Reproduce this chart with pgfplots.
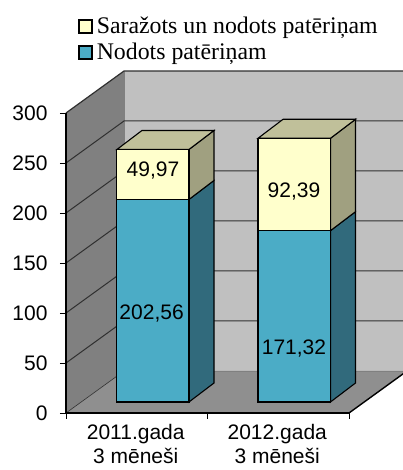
\documentclass[border=0pt]{standalone}
\usepackage{fontspec}
\setmainfont{Liberation Sans}
\newfontfamily\legendfont{Liberation Serif}
\usepackage{pgfplots}
\pgfplotsset{compat=1.18}

\definecolor{wallback}{HTML}{C0C0C0}
\definecolor{wallside}{HTML}{808080}
\definecolor{floorc}{HTML}{8F8F8F}
\definecolor{bluef}{HTML}{4BACC6}
\definecolor{blues}{HTML}{316A7C}
\definecolor{yellowf}{HTML}{FFFFCC}
\definecolor{yellows}{HTML}{A0A080}
\definecolor{yellowt}{HTML}{C0C09A}
\definecolor{gridc}{HTML}{303030}

\begin{document}
\begin{tikzpicture}
\path[use as bounding box,clip] (-66pt,-57pt) rectangle (337pt,413pt);
\begin{axis}[
  scale only axis,
  width=283pt,
  height=300pt,
  xmin=0, xmax=2,
  ymin=0, ymax=300,
  clip=false,
  axis on top,
  axis x line=bottom,
  axis y line=left,
  axis line style={-, line width=1.5pt, black},
  tick align=outside,
  major tick length=6pt,
  tick style={line width=0.9pt, black},
  xtick={0,1,2},
  xticklabels={},
  extra x ticks={0.5,1.5},
  extra x tick labels={{2011.gada\\3 mēneši},{2012.gada\\3 mēneši}},
  extra x tick style={major tick length=0pt, xticklabel style={align=center, yshift=-11pt, xshift=-1pt, inner ysep=0pt}},
  ytick={0,50,100,150,200,250,300},
  yticklabel style={xshift=-9pt},
  /pgf/number format/assume math mode=true,
  tick label style={font=\fontsize{21}{24}\selectfont},
  legend style={draw=none, fill=none, at={(12pt,398pt)}, anchor=north west,
    font=\legendfont\fontsize{23.8}{24}\selectfont, cells={anchor=west},
    row sep=4pt, inner sep=0pt, column sep=2pt},
  legend image code/.code={\draw[#1, line width=1.6pt, draw=black] (0pt,-6.5pt) rectangle (13pt,6.5pt);},
]
% walls and floor
\addplot[forget plot, fill=wallback, draw=none] coordinates {(0.41,42) (2.41,42) (2.41,342) (0.41,342)} --cycle;
\addplot[forget plot, fill=wallside, draw=none] coordinates {(0,0) (0.41,42) (0.41,342) (0,300)} --cycle;
\addplot[forget plot, fill=floorc, draw=none] coordinates {(0,0) (2,0) (2.41,42) (0.41,42)} --cycle;
\addplot[forget plot, gridc, line width=0.6pt] coordinates {(0,0) (0.41,42)};
\addplot[forget plot, black, line width=1.4pt] coordinates {(2,0) (2.41,42)};
\addplot[forget plot, gray, line width=0.6pt] coordinates {(0.41,42) (0.41,342)};
\addplot[forget plot, gray, line width=0.6pt] coordinates {(0.41,42) (2.41,42)};
% grid
\addplot[forget plot, gridc, line width=1pt] coordinates {(0,50) (0.41,92) (2.41,92)};
\addplot[forget plot, gridc, line width=1pt] coordinates {(0,100) (0.41,142) (2.41,142)};
\addplot[forget plot, gridc, line width=1pt] coordinates {(0,150) (0.41,192) (2.41,192)};
\addplot[forget plot, gridc, line width=1pt] coordinates {(0,200) (0.41,242) (2.41,242)};
\addplot[forget plot, gridc, line width=1pt] coordinates {(0,250) (0.41,292) (2.41,292)};
\addplot[forget plot, gridc, line width=1.2pt] coordinates {(0,300) (0.41,342) (2.41,342)};
% 2011: 202.56 + 49.97, base 11
\addplot[forget plot, fill=blues, draw=black, line width=1.1pt] coordinates {(0.869,11) (1.046,30) (1.046,232.56) (0.869,213.56)} --cycle;
\addplot[forget plot, fill=yellows, draw=black, line width=1.1pt] coordinates {(0.869,213.56) (1.046,232.56) (1.046,282.53) (0.869,263.53)} --cycle;
\addplot[forget plot, fill=yellowt, draw=black, line width=1.1pt] coordinates {(0.360,263.53) (0.869,263.53) (1.046,282.53) (0.537,282.53)} --cycle;
\addplot[forget plot, fill=bluef, draw=black, line width=1.1pt] coordinates {(0.360,11) (0.869,11) (0.869,213.56) (0.360,213.56)} --cycle;
\addplot[forget plot, fill=yellowf, draw=black, line width=1.1pt] coordinates {(0.360,213.56) (0.869,213.56) (0.869,263.53) (0.360,263.53)} --cycle;
% 2012: 171.32 + 92.39, base 11
\addplot[forget plot, fill=blues, draw=black, line width=1.1pt] coordinates {(1.869,11) (2.046,30) (2.046,201.32) (1.869,182.32)} --cycle;
\addplot[forget plot, fill=yellows, draw=black, line width=1.1pt] coordinates {(1.869,182.32) (2.046,201.32) (2.046,293.71) (1.869,274.71)} --cycle;
\addplot[forget plot, fill=yellowt, draw=black, line width=1.1pt] coordinates {(1.357,274.71) (1.869,274.71) (2.046,293.71) (1.534,293.71)} --cycle;
\addplot[forget plot, fill=bluef, draw=black, line width=1.1pt] coordinates {(1.357,11) (1.869,11) (1.869,182.32) (1.357,182.32)} --cycle;
\addplot[forget plot, fill=yellowf, draw=black, line width=1.1pt] coordinates {(1.357,182.32) (1.869,182.32) (1.869,274.71) (1.357,274.71)} --cycle;
% value labels
\node[font=\fontsize{21}{24}\selectfont] at (axis cs:0.615,242) {49,97};
\node[font=\fontsize{21}{24}\selectfont] at (axis cs:1.611,221) {92,39};
\node[font=\fontsize{21}{24}\selectfont] at (axis cs:0.605,99) {202,56};
\node[font=\fontsize{21}{24}\selectfont] at (axis cs:1.611,64) {171,32};
\addlegendimage{fill=yellowf}
\addlegendimage{fill=bluef}
\legend{Saražots un nodots patēriņam, Nodots patēriņam}
\end{axis}
\end{tikzpicture}
\end{document}
